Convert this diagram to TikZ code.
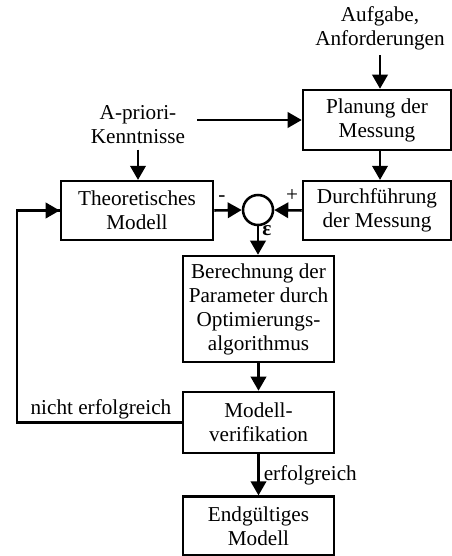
\documentclass[tikz,border=0pt]{standalone}
\usepackage{fontspec}
\setmainfont{Liberation Serif}
\usepackage{tikz}
\usetikzlibrary{arrows.meta, positioning, calc}

\begin{document}
\begin{tikzpicture}[x=0.75pt, y=-0.75pt,
  font=\fontsize{15.9}{18}\selectfont,
  block/.style={draw, line width=1.9pt, align=center, minimum width=112pt, inner sep=2pt},
  txt/.style={align=center, inner xsep=9pt, inner ysep=4pt},
  pfeil/.style={line width=1.9pt, -{Triangle[length=10.5pt, width=11.5pt]}},
  linie/.style={line width=1.9pt}]
  \useasboundingbox (0,0) rectangle (452,556);

  % Eingaenge
  \node[txt] (aufgabe) at (380,28) {Aufgabe,\\Anforderungen};
  \node[txt] (apriori) at (138,125) {A-priori-\\Kenntnisse};

  % Bloecke
  \node[block, minimum width=111pt, minimum height=45pt] (planung) at (377,120) {Planung der\\Messung};
  \node[block, minimum width=111pt, minimum height=44pt] (durch) at (377,210.5) {Durchführung\\der Messung};
  \node[block, minimum width=114pt, minimum height=44pt] (theo) at (137,210.5) {Theoretisches\\Modell};
  \node[draw, circle, line width=1.9pt, minimum size=22.5pt, inner sep=0pt] (sum) at (258,210) {};
  \node[block, minimum width=113pt, minimum height=79.5pt] (berech) at (258.5,309) {Berechnung der\\Parameter durch\\Optimierungs-\\algorithmus};
  \node[block, minimum width=113pt, minimum height=45.75pt] (verif) at (258.5,422.5) {Modell-\\verifikation};
  \node[block, minimum width=113pt, minimum height=44pt] (endg) at (258.5,526) {Endgültiges\\Modell};
  \coordinate (links) at (17,0);

  % Verbindungen
  \draw[pfeil] (aufgabe.south) -- (aufgabe.south |- planung.north);
  \draw[pfeil] (apriori.east |- planung.west) -- (planung.west);
  \draw[pfeil] (apriori.south) -- (apriori.south |- theo.north);
  \draw[pfeil] (planung.south -| aufgabe.south) -- (durch.north -| aufgabe.south);
  \draw[pfeil] (theo.east) -- (sum.west);
  \draw[pfeil] (durch.west) -- (sum.east);
  \draw[pfeil] (sum.south) -- (berech.north -| sum.south);
  \draw[pfeil] (berech.south) -- (verif.north);
  \draw[pfeil] (verif.south) -- node[right, inner sep=3pt] {erfolgreich} (endg.north);
  \draw[linie] (verif.west) -- (verif.west -| links) |- (theo.west);
  \draw[pfeil] ($(theo.west)+(-0.5,0)$) -- (theo.west);

  % Beschriftungen
  \node (minus) at (222,199) {-};
  \node (plus) at (292,196) {+};
  \node[font=\fontsize{15.9}{18}\selectfont\bfseries] (eps) at (267,231) {ε};
  \node[anchor=east] (nicht) at (176,409) {nicht erfolgreich};
\end{tikzpicture}
\end{document}
